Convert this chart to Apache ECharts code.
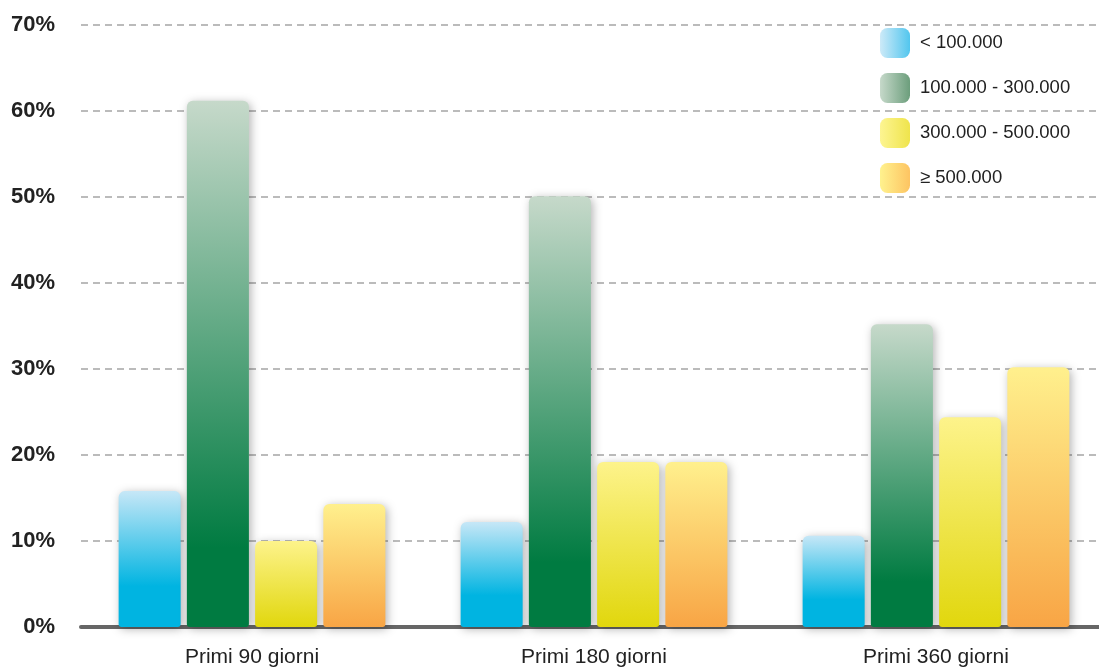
<!DOCTYPE html>
<html>
<head>
<meta charset="utf-8">
<script src="https://cdn.jsdelivr.net/npm/echarts@6/dist/echarts.min.js"></script>
<style>
  html, body { margin: 0; padding: 0; background: #fff; overflow: hidden; }
  /* il grafico sborda a destra: griglia e asse arrivano al bordo */
  #chart { width: 1107px; height: 672px; }
</style>
</head>
<body>
<div id="chart"></div>
<script>
const categories = ['Primi 90 giorni', 'Primi 180 giorni', 'Primi 360 giorni']
const seriesNames = ['< 100.000', '100.000 - 300.000', '300.000 - 500.000', '≥ 500.000']
const under100k = [15.8, 12.2, 10.6]
const from100to300k = [61.2, 50.1, 35.2]
const from300to500k = [10.0, 19.2, 24.4]
const over500k = [14.3, 19.2, 30.2]
const yTicks = [0, 10, 20, 30, 40, 50, 60, 70]

// colori barre: [chiaro in alto, scuro in basso, dove diventa pieno]
const palette = [
  ['#c6e7f7', '#00b4e1', 0.7],
  ['#c6d9ca', '#007b41', 0.85],
  ['#fdf38b', '#e1d70d', 1],
  ['#fff08d', '#f8a545', 1]
]
// colori legenda: [sinistra, destra]
const legendPalette = [
  ['#cdeaf8', '#52c6ee'],
  ['#c6d9ca', '#6c9e7c'],
  ['#fdf592', '#efe44c'],
  ['#fff28e', '#fdc462']
]

const chart = echarts.init(document.getElementById('chart'))

function barGradient(p) {
  return new echarts.graphic.LinearGradient(0, 0, 0, 1, [
    { offset: 0, color: p[0] },
    { offset: p[2], color: p[1] },
    { offset: 1, color: p[1] }
  ])
}

function legendGradient(p) {
  return new echarts.graphic.LinearGradient(0, 0, 1, 0, [
    { offset: 0, color: p[0] },
    { offset: 1, color: p[1] }
  ])
}

const values = [under100k, from100to300k, from300to500k, over500k]

const series = values.map((data, i) => ({
  name: seriesNames[i],
  type: 'bar',
  data: data,
  barGap: '10%',
  barCategoryGap: '22%',
  itemStyle: {
    color: barGradient(palette[i]),
    borderRadius: [6, 6, 3, 3],
    shadowBlur: 10,
    shadowColor: 'rgba(0,0,0,0.3)',
    shadowOffsetX: 2,
    shadowOffsetY: 2
  },
  emphasis: { disabled: true }
}))

chart.setOption({
  animation: false,
  backgroundColor: '#fff',
  grid: {
    left: 81,
    right: 0,
    top: 25,
    bottom: 45
  },
  legend: {
    orient: 'vertical',
    left: 875,
    top: 23,
    itemWidth: 30,
    itemHeight: 30,
    itemGap: 15,
    icon: 'roundRect',
    textStyle: {
      fontFamily: '"Liberation Sans", Arial, sans-serif',
      fontSize: 18.5,
      color: '#222',
      padding: [3, 0, 0, 5]
    },
    data: seriesNames.map((name, i) => ({
      name: name,
      itemStyle: { color: legendGradient(legendPalette[i]), shadowBlur: 0 }
    }))
  },
  xAxis: {
    type: 'category',
    data: categories,
    axisTick: { show: false },
    axisLine: { lineStyle: { color: '#666', width: 4 } },
    axisLabel: {
      margin: 20,
      fontFamily: '"Liberation Sans", Arial, sans-serif',
      fontSize: 21,
      color: '#222'
    }
  },
  yAxis: {
    type: 'value',
    min: yTicks[0],
    max: yTicks[yTicks.length - 1],
    interval: 10,
    axisLine: { show: false },
    axisTick: { show: false },
    axisLabel: {
      formatter: '{value}%',
      margin: 26,
      fontFamily: '"Liberation Sans", Arial, sans-serif',
      fontWeight: 'bold',
      fontSize: 22,
      color: '#222'
    },
    splitLine: {
      lineStyle: { color: '#bbb', width: 2, type: [7, 5] }
    }
  },
  series: series
})
</script>
</body>
</html>
